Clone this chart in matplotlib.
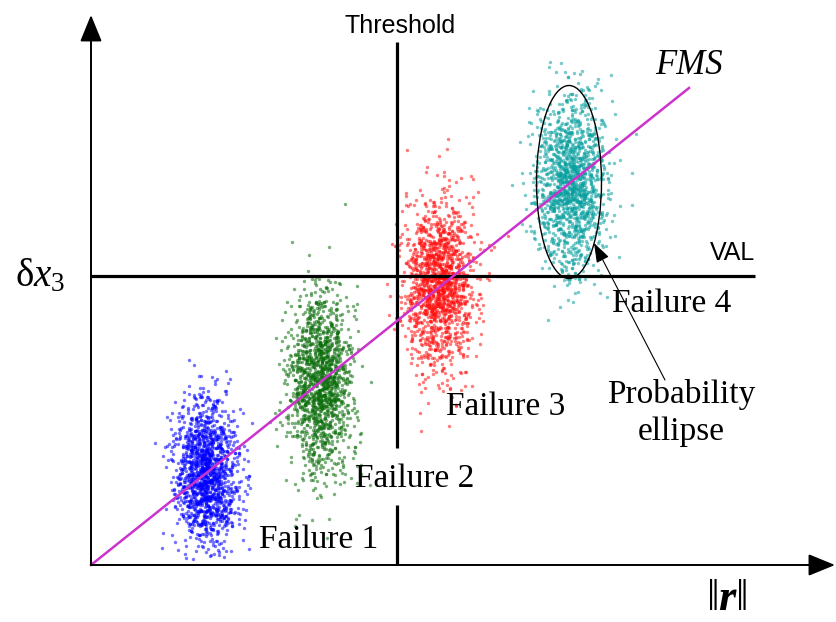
import numpy as np
import matplotlib
matplotlib.use("Agg")
import matplotlib.pyplot as plt
from matplotlib.patches import Ellipse

plt.rcParams['mathtext.fontset'] = 'custom'
plt.rcParams['mathtext.rm'] = 'Liberation Serif'
plt.rcParams['mathtext.it'] = 'Liberation Serif:italic'
plt.rcParams['mathtext.bf'] = 'Liberation Serif:bold:italic'

SERIF = 'Liberation Serif'
SANS = 'Liberation Sans'

# failure clouds: centre along the FMS direction, spread, colour
failures = ["Failure 1", "Failure 2", "Failure 3", "Failure 4"]
centre_x = [116, 229, 349, 479]
centre_y = [92, 182, 280, 382]
spread_x = [16, 16, 18, 17]
spread_y = [36, 44, 42, 42]
n_points = [1500, 1500, 1500, 1500]
colours = ["#0000ff", "#0b6e0b", "#ff1010", "#0aa0a0"]

# label anchors (baseline) for each failure
label_x = [228, 324, 415, 581]
label_y = [17, 78, 150, 253]

# decision boundaries
threshold = 306
val = 289
fms_end = (598, 477)

# probability ellipse around failure 4
ell_centre = (478, 383)
ell_w, ell_h = 65, 193

fig = plt.figure(figsize=(8.37, 6.22), dpi=100)
ax = fig.add_axes([0, 0, 1, 1])
ax.set_xlim(-91, 746)
ax.set_ylim(-57, 565)
ax.axis('off')

rng = np.random.default_rng(7)
for cx, cy, sx, sy, n, c in zip(centre_x, centre_y, spread_x, spread_y, n_points, colours):
    px = rng.normal(cx, sx, n)
    py = rng.normal(cy, sy, n)
    keep = py > 0
    ax.scatter(px[keep], py[keep], s=6, color=c, alpha=0.55, linewidths=0, zorder=2)

# axes with arrow heads
arrow = dict(arrowstyle='-|>,head_length=1.1,head_width=0.45', mutation_scale=15,
             lw=1.4, color='k', shrinkA=0, shrinkB=0)
ax.annotate('', xy=(0, 550), xytext=(0, 0), arrowprops=arrow, zorder=4)
ax.annotate('', xy=(744, 0), xytext=(0, 0), arrowprops=arrow, zorder=4)

# threshold (broken around the Failure 2 label) and VAL
ax.vlines([threshold, threshold], [0, 117], [60, 523], color='k', lw=2.3, zorder=3)
ax.hlines(val, 0, 664, color='k', lw=2.3, zorder=3)

# fault mode signature line
ax.plot([0, fms_end[0]], [0, fms_end[1]], color='#cc33cc', lw=1.8, zorder=3)

ax.add_patch(Ellipse(ell_centre, ell_w, ell_h, fill=False, ec='k', lw=1.0, zorder=4))
ax.annotate('', xy=(503, 322), xytext=(574, 185),
            arrowprops=dict(arrowstyle='-|>,head_length=1.0,head_width=0.35',
                            mutation_scale=12, lw=0.8, color='k',
                            shrinkA=0, shrinkB=0), zorder=4)

ax.text(309, 532, "Threshold", family=SANS, fontsize=18, ha='center', va='baseline')
ax.text(664, 305, "VAL", family=SANS, fontsize=18, ha='right', va='baseline')
ax.text(598, 491, "FMS", family=SERIF, style='italic', fontsize=25, ha='center', va='baseline')

for name, lx, ly in zip(failures, label_x, label_y):
    ax.text(lx, ly, name, family=SERIF, fontsize=24, ha='center', va='baseline', zorder=5)

ax.text(590, 152, "Probability\nellipse", family=SERIF, fontsize=24,
        ha='center', va='center', linespacing=1.3)

ax.text(-51, 290, r'$\mathrm{δ}x_3$', fontsize=28, ha='center', va='center')
ax.text(636, -33, r'$\Vert\mathbf{r}\Vert$', fontsize=32, ha='center', va='center')

fig.savefig("out.png", dpi=100)
